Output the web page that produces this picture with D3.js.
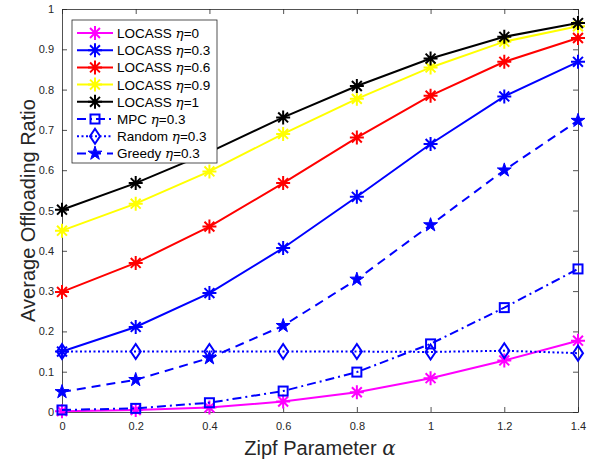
<!DOCTYPE html>
<html>
<head>
<meta charset="utf-8">
<script src="https://cdn.jsdelivr.net/npm/d3@7"></script>
<style>
  body { margin: 0; background: #fff; }
  svg { font-family: "Liberation Sans", Arial, sans-serif; }
  .tick text { fill: #262626; font-size: 11px; }
</style>
</head>
<body>
<svg id="chart" width="596" height="460"></svg>
<script>
// data
const alphas = [0, 0.2, 0.4, 0.6, 0.8, 1.0, 1.2, 1.4];
const xTicks = [0, 0.2, 0.4, 0.6, 0.8, 1, 1.2, 1.4];
const yTicks = [0, 0.1, 0.2, 0.3, 0.4, 0.5, 0.6, 0.7, 0.8, 0.9, 1];

const locass0  = [0.002, 0.005, 0.011, 0.026, 0.049, 0.084, 0.128, 0.177];
const locass03 = [0.15, 0.211, 0.295, 0.407, 0.534, 0.665, 0.783, 0.869];
const locass06 = [0.298, 0.37, 0.46, 0.568, 0.681, 0.785, 0.869, 0.928];
const locass09 = [0.45, 0.517, 0.597, 0.69, 0.777, 0.855, 0.919, 0.957];
const locass1  = [0.502, 0.568, 0.645, 0.731, 0.809, 0.877, 0.931, 0.965];
const mpc      = [0.005, 0.009, 0.023, 0.052, 0.099, 0.169, 0.259, 0.355];
const random   = [0.15, 0.15, 0.15, 0.15, 0.15, 0.149, 0.152, 0.146];
const greedy   = [0.05, 0.08, 0.134, 0.214, 0.329, 0.464, 0.6, 0.723];

const series = [
  {name: "LOCASS ", eta: "0",   values: locass0,  color: "#ff00ff", dash: null,        marker: "asterisk"},
  {name: "LOCASS ", eta: "0.3", values: locass03, color: "#0000ff", dash: null,        marker: "asterisk"},
  {name: "LOCASS ", eta: "0.6", values: locass06, color: "#ff0000", dash: null,        marker: "asterisk"},
  {name: "LOCASS ", eta: "0.9", values: locass09, color: "#ffff00", dash: null,        marker: "asterisk"},
  {name: "LOCASS ", eta: "1",   values: locass1,  color: "#000000", dash: null,        marker: "asterisk"},
  {name: "MPC ",    eta: "0.3", values: mpc,      color: "#0000ff", dash: "9,4,2,4",   marker: "square"},
  {name: "Random ", eta: "0.3", values: random,   color: "#0000ff", dash: "2,2.5",     marker: "diamond"},
  {name: "Greedy ", eta: "0.3", values: greedy,   color: "#0000ff", dash: "9,6",       marker: "star"}
];

const margin = {top: 9, right: 18, bottom: 48, left: 62};
const width = 596 - margin.left - margin.right;
const height = 460 - margin.top - margin.bottom;

const svg = d3.select("#chart")
  .append("g")
    .attr("transform", `translate(${margin.left},${margin.top})`);

const x = d3.scaleLinear().domain([0, 1.4]).range([0, width]);
const y = d3.scaleLinear().domain([0, 1]).range([height, 0]);

// axes, MATLAB box style with inner ticks
const fmt = d => String(d);
svg.append("g")
    .attr("transform", `translate(0,${height})`)
    .call(d3.axisBottom(x).tickValues(xTicks).tickFormat(fmt).tickSizeInner(-5).tickSizeOuter(0).tickPadding(10));
svg.append("g")
    .call(d3.axisLeft(y).tickValues(yTicks).tickFormat(fmt).tickSizeInner(-5).tickSizeOuter(0).tickPadding(8));
svg.append("g")
    .call(d3.axisTop(x).tickValues(xTicks).tickFormat("").tickSizeInner(-5).tickSizeOuter(0));
svg.append("g")
    .attr("transform", `translate(${width},0)`)
    .call(d3.axisRight(y).tickValues(yTicks).tickFormat("").tickSizeInner(-5).tickSizeOuter(0));
svg.selectAll(".domain, .tick line").attr("stroke", "#262626").attr("stroke-width", 0.8);

// markers
function drawMarker(g, type, color) {
  if (type === "asterisk") {
    const r = 7;
    const p = [];
    [0, 45, 90, 135].forEach(a => {
      const t = a * Math.PI / 180;
      p.push(`M${-r * Math.cos(t)},${-r * Math.sin(t)}L${r * Math.cos(t)},${r * Math.sin(t)}`);
    });
    g.append("path").attr("d", p.join("")).attr("stroke", color).attr("stroke-width", 2).attr("fill", "none");
  } else if (type === "square") {
    g.append("rect").attr("x", -4.5).attr("y", -4.5).attr("width", 9).attr("height", 9)
      .attr("fill", "none").attr("stroke", color).attr("stroke-width", 2);
  } else if (type === "diamond") {
    g.append("path").attr("d", "M0,-7.5L5,0L0,7.5L-5,0Z")
      .attr("fill", "none").attr("stroke", color).attr("stroke-width", 2);
  } else if (type === "star") {
    g.append("path").attr("d", d3.symbol(d3.symbolStar, 60)())
      .attr("fill", color).attr("stroke", color).attr("stroke-width", 1);
  }
}

const line = d3.line()
  .x((d, i) => x(alphas[i]))
  .y(d => y(d));

series.forEach(s => {
  svg.append("path")
    .datum(s.values)
    .attr("fill", "none")
    .attr("stroke", s.color)
    .attr("stroke-width", 2)
    .attr("stroke-dasharray", s.dash)
    .attr("d", line);
  s.values.forEach((v, i) => {
    const g = svg.append("g").attr("transform", `translate(${x(alphas[i])},${y(v)})`);
    drawMarker(g, s.marker, s.color);
  });
});

// legend
const legend = svg.append("g").attr("transform", "translate(10,11)");
legend.append("rect")
  .attr("width", 145).attr("height", 143)
  .attr("fill", "#fff").attr("stroke", "#262626").attr("stroke-width", 0.8);
series.forEach((s, i) => {
  const row = legend.append("g").attr("transform", `translate(0,${13 + i * 17.2})`);
  row.append("line")
    .attr("x1", 5).attr("x2", 41)
    .attr("stroke", s.color).attr("stroke-width", 2)
    .attr("stroke-dasharray", s.dash);
  drawMarker(row.append("g").attr("transform", "translate(23,0)"), s.marker, s.color);
  const t = row.append("text").attr("x", 45).attr("y", 5).attr("font-size", 13.5).attr("fill", "#000");
  t.append("tspan").text(s.name);
  t.append("tspan").attr("font-family", "'DejaVu Serif', serif").attr("font-style", "italic").text("η");
  t.append("tspan").text("=" + s.eta);
});

// axis titles
const xt = svg.append("text")
  .attr("x", width / 2).attr("y", height + 43)
  .attr("text-anchor", "middle").attr("font-size", 20).attr("fill", "#262626");
xt.append("tspan").text("Zipf Parameter ");
xt.append("tspan").attr("font-family", "'DejaVu Serif', serif").attr("font-style", "italic").text("α");

svg.append("text")
  .attr("transform", `translate(-27,${height / 2}) rotate(-90)`)
  .attr("text-anchor", "middle").attr("font-size", 20).attr("fill", "#262626")
  .text("Average Offloading Ratio");
</script>
</body>
</html>
